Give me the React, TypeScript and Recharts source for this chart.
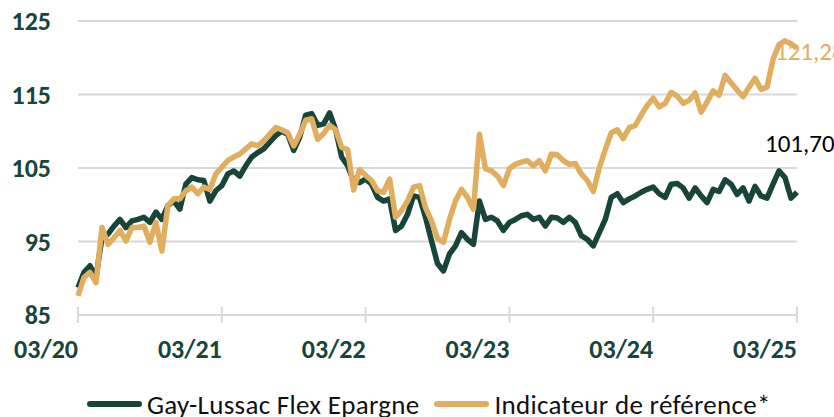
import { LineChart, Line, XAxis, YAxis, CartesianGrid, Legend, LabelList } from "recharts"

const FONT = "Carlito, Lato, 'Open Sans', sans-serif"
const GREEN = "#17453a"
const GOLD = "#e0ae5e"
const GRID = "#d9d9d9"

// semi-monthly points, 03/2020 -> 03/2025
const tickIdx = [0, 24, 48, 72, 96, 120]
const tickLabels = ["03/20", "03/21", "03/22", "03/23", "03/24", "03/25"]
const yTicks = [85, 95, 105, 115, 125]

const gayLussac = [
  88.7, 90.8, 91.7, 90.1, 95.5, 96.0, 97.1, 98.0, 96.9, 97.8,
  98.0, 98.3, 97.6, 99.0, 98.0, 99.9, 100.5, 99.4, 102.8, 103.7,
  103.4, 103.3, 100.5, 101.9, 102.6, 104.2, 104.6, 103.9, 105.3, 106.5,
  107.1, 107.6, 108.5, 109.4, 110.0, 109.6, 107.4, 109.2, 112.2, 112.4,
  110.8, 111.0, 112.5, 110.2, 106.5, 105.3, 103.2, 103.0, 103.5, 102.8,
  101.0, 100.5, 100.8, 96.5, 97.1, 98.7, 101.2, 101.0, 98.3, 95.1,
  92.0, 91.0, 93.3, 94.4, 96.2, 95.3, 94.6, 100.5, 98.0, 98.3,
  97.8, 96.5, 97.6, 98.0, 98.5, 98.7, 98.0, 98.3, 97.1, 98.3,
  98.2, 97.6, 98.3, 97.6, 95.8, 95.3, 94.4, 96.2, 98.0, 101.0,
  101.5, 100.3, 100.8, 101.2, 101.7, 102.1, 102.4, 101.5, 101.0, 102.8,
  102.9, 102.3, 100.9, 102.3, 101.2, 100.3, 102.1, 101.8, 103.4, 102.8,
  101.4, 102.3, 100.5, 102.5, 101.2, 100.9, 102.8, 104.6, 103.7, 100.9,
  101.7,
]

const reference = [
  87.6, 90.1, 90.8, 89.4, 96.9, 94.6, 95.5, 96.5, 95.1, 96.9,
  96.9, 97.1, 94.9, 97.6, 93.7, 99.9, 100.8, 100.8, 101.9, 102.4,
  101.5, 102.4, 102.1, 104.2, 105.1, 106.0, 106.5, 106.9, 107.6, 108.3,
  108.0, 108.7, 109.6, 110.5, 110.2, 109.8, 108.0, 109.6, 111.5, 111.7,
  108.9, 109.7, 110.8, 110.2, 107.8, 107.5, 102.0, 104.8, 104.0, 103.3,
  101.9, 101.7, 103.5, 98.3, 99.2, 100.5, 102.4, 102.6, 99.6, 97.8,
  95.4, 94.9, 98.0, 100.5, 102.1, 101.0, 99.4, 109.6, 104.9, 104.6,
  103.9, 102.6, 104.9, 105.5, 105.8, 106.0, 105.3, 106.0, 104.6, 106.9,
  106.8, 106.0, 105.5, 105.6, 104.2, 103.3, 101.8, 105.0, 107.5, 109.8,
  110.2, 109.0, 110.5, 110.8, 112.2, 113.5, 114.5, 113.3, 113.8, 115.3,
  114.8, 113.8, 114.2, 115.2, 112.6, 114.0, 115.5, 114.9, 117.6, 116.6,
  115.6, 114.7, 116.0, 117.2, 115.7, 116.0, 119.8, 121.8, 122.3, 121.9,
  121.28,
]

const data = gayLussac.map((v, i) => ({ t: i, gl: v, ref: reference[i] }))
const last = data.length - 1

const fmt = (v: number) => v.toFixed(2).replace(".", ",")

function XTick({ x, y, payload }: any) {
  const k = tickIdx.indexOf(payload.value)
  return (
    <g>
      <line x1={x} x2={x} y1={y - 8} y2={y + 8} stroke={GRID} strokeWidth={2} />
      <text x={x} y={y + 43} textAnchor="end" fill={GREEN} fontSize={26} fontWeight="bold" fontFamily={FONT}>
        {tickLabels[k]}
      </text>
    </g>
  )
}

function LegendBox() {
  const items = [
    { name: "Gay-Lussac Flex Epargne", color: GREEN },
    { name: "Indicateur de référence*", color: GOLD },
  ]
  return (
    <div style={{ display: "flex", alignItems: "center", height: 26, paddingLeft: 87, gap: 15, fontFamily: FONT, fontSize: 27, letterSpacing: 0.3, color: "#111" }}>
      {items.map((it) => (
        <div key={it.name} style={{ display: "flex", alignItems: "center", gap: 5 }}>
          <svg width={55} height={8}>
            <line x1={3} x2={52} y1={4} y2={4} stroke={it.color} strokeWidth={6} strokeLinecap="round" />
          </svg>
          <span style={{ whiteSpace: "nowrap" }}>{it.name}</span>
        </div>
      ))}
    </div>
  )
}

export default function App() {
  return (
    <div style={{ position: "absolute", left: 0, top: 0, background: "#fff" }}>
      <LineChart width={834} height={417} data={data} margin={{ top: 21, right: 37, left: 0, bottom: 0 }}>
        <CartesianGrid vertical={false} stroke={GRID} strokeWidth={2} />
        <XAxis
          dataKey="t"
          type="number"
          domain={[0, 120]}
          ticks={tickIdx}
          interval={0}
          height={76}
          tickLine={false}
          tickSize={0}
          tickMargin={0}
          axisLine={{ stroke: GRID, strokeWidth: 2 }}
          tick={<XTick />}
        />
        <YAxis
          domain={[85, 125]}
          ticks={yTicks}
          width={78}
          axisLine={false}
          tickLine={false}
          tickSize={0}
          tickMargin={27}
          tick={{ fill: GREEN, fontSize: 26, fontWeight: "bold", fontFamily: FONT }}
        />
        <Legend verticalAlign="bottom" content={<LegendBox />} />
        <Line
          dataKey="gl"
          stroke={GREEN}
          strokeWidth={5.5}
          dot={false}
          strokeLinejoin="round"
          isAnimationActive={false}
        >
          <LabelList
            dataKey="gl"
            content={(p: any) =>
              p.index === last ? (
                <text x={p.x - 32} y={p.y - 40} fill="#000" fontSize={25} fontFamily={FONT}>
                  {fmt(p.value)}
                </text>
              ) : null
            }
          />
        </Line>
        <Line
          dataKey="ref"
          stroke={GOLD}
          strokeWidth={5.5}
          dot={false}
          strokeLinejoin="round"
          isAnimationActive={false}
        >
          <LabelList
            dataKey="ref"
            content={(p: any) =>
              p.index === last ? (
                <text x={p.x - 22} y={p.y + 12} fill={GOLD} fontSize={25} fontFamily={FONT}>
                  {fmt(p.value)}
                </text>
              ) : null
            }
          />
        </Line>
      </LineChart>
    </div>
  )
}
